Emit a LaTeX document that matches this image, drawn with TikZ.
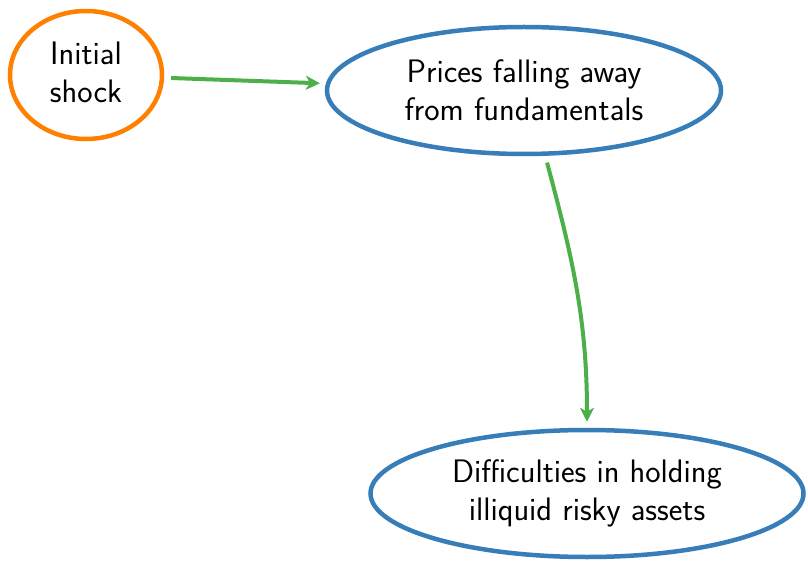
\documentclass[tikz,border=0pt]{standalone}
\usetikzlibrary{shapes.geometric,arrows.meta}
\definecolor{shockorange}{HTML}{FF7F00}
\definecolor{nodeblue}{HTML}{377EB8}
\definecolor{arrowgreen}{HTML}{4DAF4A}
\begin{document}
\begin{tikzpicture}[x=1pt,y=-1pt,
  bubble/.style={ellipse, draw, line width=4.5pt, inner sep=0pt, align=center,
    font=\sffamily\fontsize{32.5}{38}\selectfont},
  link/.style={draw=arrowgreen, line width=4pt,
    -{Stealth[length=14pt,width=14pt,inset=4pt]}, shorten <=7pt, shorten >=6pt}]
\useasboundingbox (0,0) rectangle (808,561);
\node[bubble, draw=shockorange, minimum width=152pt, minimum height=128pt] (a) at (86,75) {Initial\\shock\vspace{6pt}};
\node[bubble, draw=nodeblue, minimum width=394pt, minimum height=127pt] (b) at (524,90.5) {Prices falling away\\from fundamentals};
\node[bubble, draw=nodeblue, minimum width=433pt, minimum height=127pt] (c) at (587,493.5) {Difficulties in holding\\illiquid risky assets};
\draw[link] (a) -- (b);
\draw[link] (b.-72) to[out=-75,in=90] (c.north);
\end{tikzpicture}
\end{document}
